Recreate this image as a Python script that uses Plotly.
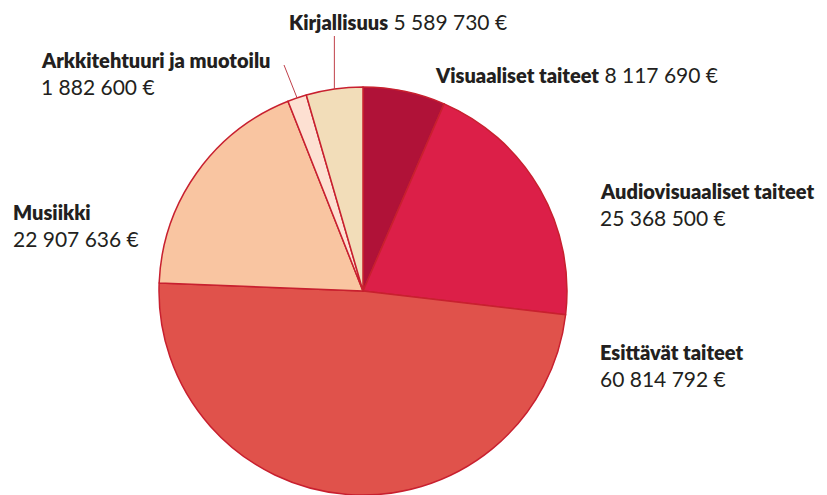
import numpy as np
import plotly.graph_objects as go

categories = ["Visuaaliset taiteet", "Audiovisuaaliset taiteet", "Esittävät taiteet",
              "Musiikki", "Arkkitehtuuri ja muotoilu", "Kirjallisuus"]
amounts = [8117690, 25368500, 60814792, 22907636, 1882600, 5589730]
amount_labels = ["8 117 690 €", "25 368 500 €", "60 814 792 €",
                 "22 907 636 €", "1 882 600 €", "5 589 730 €"]
colors = ["#b01238", "#dc1f48", "#e0524b", "#f9c5a1", "#fde0d2", "#f2ddb9"]

# page is drawn with an 8px body margin, so work in page pixels and convert
OFF = 8
W, H = 827 - OFF, 495 - OFF
cx, cy, r = 363, 291, 204  # pie centre and radius in page pixels

def px(x):
    return (x - OFF) / W

def py(y):
    return 1 - (y - OFF) / H

fig = go.Figure(go.Pie(
    labels=categories, values=amounts, sort=False, direction="clockwise",
    rotation=0, textinfo="none", hoverinfo="skip", showlegend=False,
    marker=dict(colors=colors, line=dict(color="#c8202f", width=1.5)),
    domain=dict(x=[px(cx - r), px(cx + r)], y=[py(cy + r), py(cy - r)]),
))

font = dict(family="Lato, Open Sans, sans-serif", size=21, color="#231f20")
heavy = '<span style="font-weight:800;font-size:20px">{}</span>'

# label placement: x, y of first line, y of second line (None = same line)
placement = {
    "Visuaaliset taiteet": (433, 74, None),
    "Audiovisuaaliset taiteet": (598, 191, 217),
    "Esittävät taiteet": (598, 352, 378),
    "Musiikki": (11, 212, 238),
    "Arkkitehtuuri ja muotoilu": (39, 60, 86),
    "Kirjallisuus": (287, 22, None),
}
for cat, lab in zip(categories, amount_labels):
    x, y1, y2 = placement[cat]
    if y2 is None:
        fig.add_annotation(x=px(x), y=py(y1), xref="paper", yref="paper",
                           xanchor="left", yanchor="middle", showarrow=False,
                           text=heavy.format(cat) + " " + lab, font=font)
    else:
        fig.add_annotation(x=px(x), y=py(y1), xref="paper", yref="paper",
                           xanchor="left", yanchor="middle", showarrow=False,
                           text=heavy.format(cat), font=font)
        fig.add_annotation(x=px(x), y=py(y2), xref="paper", yref="paper",
                           xanchor="left", yanchor="middle", showarrow=False,
                           text=lab, font=font)

# leader lines for the two small slices, starting at the slice mid angle
total = sum(amounts)
cum = np.cumsum([0] + amounts) / total
mids = (cum[:-1] + cum[1:]) / 2 * 2 * np.pi
leader_end = {"Arkkitehtuuri ja muotoilu": (284, 65), "Kirjallisuus": None}
for i, cat in enumerate(categories):
    if cat not in leader_end:
        continue
    x0 = cx + r * np.sin(mids[i])
    y0 = cy - r * np.cos(mids[i])
    end = leader_end[cat]
    if end is None:
        end = (x0, 36)
    fig.add_shape(type="line", xref="paper", yref="paper",
                  x0=px(x0), y0=py(y0), x1=px(end[0]), y1=py(end[1]),
                  line=dict(color="#c0404a", width=1))

fig.update_layout(width=W, height=H, margin=dict(l=0, r=0, t=0, b=0),
                  paper_bgcolor="white", plot_bgcolor="white")
fig.write_html("out.html")
